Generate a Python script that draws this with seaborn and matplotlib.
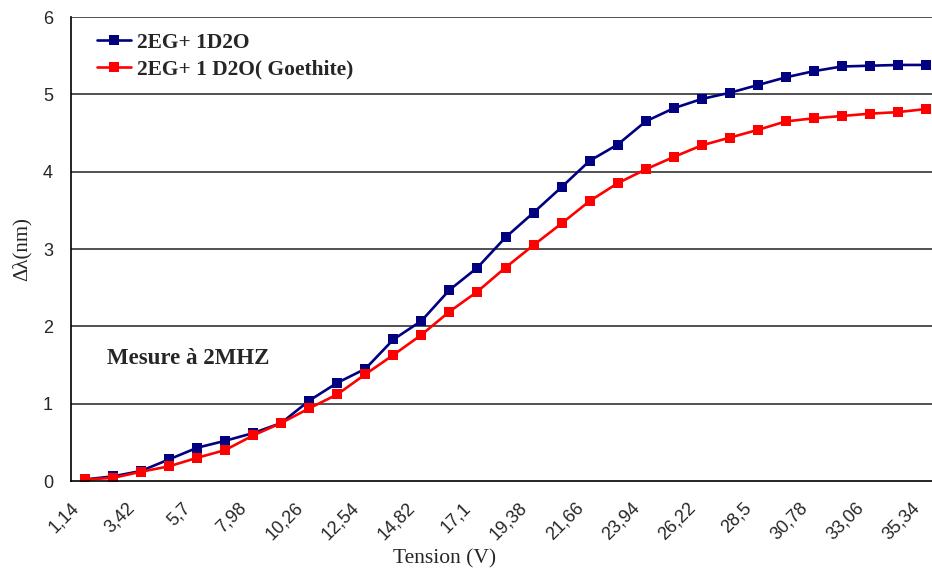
import matplotlib
matplotlib.use("Agg")
import numpy as np
import pandas as pd
import seaborn as sns
import matplotlib.pyplot as plt
import matplotlib.transforms as mtransforms
from matplotlib.ticker import FixedLocator

# Tension (V) categories
tension = [1.14, 2.28, 3.42, 4.56, 5.7, 6.84, 7.98, 9.12, 10.26, 11.4,
           12.54, 13.68, 14.82, 15.96, 17.1, 18.24, 19.38, 20.52, 21.66, 22.8,
           23.94, 25.08, 26.22, 27.36, 28.5, 29.64, 30.78, 31.92, 33.06, 34.2,
           35.34]

# delta lambda (nm)
eg_d2o = [0.02, 0.06, 0.13, 0.28, 0.43, 0.52, 0.62, 0.75, 1.04, 1.27,
          1.45, 1.83, 2.07, 2.47, 2.76, 3.15, 3.47, 3.80, 4.14, 4.35,
          4.65, 4.82, 4.94, 5.02, 5.12, 5.22, 5.30, 5.36, 5.37, 5.38,
          5.38]
eg_d2o_goethite = [0.02, 0.04, 0.12, 0.19, 0.30, 0.40, 0.59, 0.75, 0.94, 1.12,
                   1.38, 1.63, 1.89, 2.19, 2.45, 2.76, 3.05, 3.33, 3.62, 3.85,
                   4.03, 4.19, 4.34, 4.44, 4.54, 4.65, 4.69, 4.72, 4.75, 4.77,
                   4.81]

label_blue = "2EG+ 1D2O"
label_red = "2EG+ 1 D2O( Goethite)"

sns.set_style("white")
serif = ["Liberation Serif", "DejaVu Serif"]
sans = ["Liberation Sans", "DejaVu Sans"]

idx = np.arange(len(tension))
df = pd.DataFrame({"idx": idx, "blue": eg_d2o, "red": eg_d2o_goethite})

fig = plt.figure(figsize=(9.32, 5.72), dpi=100)
ax = fig.add_axes([71 / 932, 91 / 572, 869 / 932, 464 / 572])

sns.lineplot(data=df, x="idx", y="blue", ax=ax, color="#000080", marker="s",
             markersize=7, markeredgewidth=0, linewidth=1.9, label=label_blue)
sns.lineplot(data=df, x="idx", y="red", ax=ax, color="#FF0000", marker="s",
             markersize=7, markeredgewidth=0, linewidth=1.9, label=label_red)

ax.set_xlim(-0.5, len(tension) - 0.5)
ax.set_ylim(0, 6)

# gridlines
for yv in range(1, 7):
    ax.axhline(yv, color="#333333", lw=1.2, zorder=0)

for s in ["top", "right"]:
    ax.spines[s].set_visible(False)
for s in ["left", "bottom"]:
    ax.spines[s].set_color("black")
    ax.spines[s].set_linewidth(1.2)

# y ticks
ax.set_yticks(range(0, 7))
ax.tick_params(axis="y", direction="out", length=5, width=1.2, color="black",
               pad=8, labelsize=13)
for t in ax.get_yticklabels():
    t.set_family(sans)

# x: category boundaries as ticks, labels every other category
ax.xaxis.set_minor_locator(FixedLocator(np.arange(-0.5, len(tension), 1)))
ax.tick_params(axis="x", which="minor", direction="out", length=5, width=1.2,
               color="black")
ax.set_xticks(idx[::2])
ax.set_xticklabels([f"{v:g}".replace(".", ",") for v in tension[::2]],
                   rotation=45, ha="right", va="top", rotation_mode="anchor",
                   family=sans, fontsize=13)
ax.tick_params(axis="x", which="major", length=0, pad=13)
shift = mtransforms.ScaledTranslation(-15 / 100, 0, fig.dpi_scale_trans)
for t in ax.get_xticklabels():
    t.set_transform(t.get_transform() + shift)

ax.set_xlabel("Tension (V)", family=serif, fontsize=15.5, labelpad=4)
ax.xaxis.set_label_coords(0.43, -0.148)
ax.set_ylabel("\u0394\u03bb(nm)", family=serif, fontsize=15, labelpad=8)

ax.text(0.041, 0.265, "Mesure à 2MHZ", transform=ax.transAxes, ha="left",
        va="center", family=serif, fontweight="bold", fontsize=16.5)

ax.legend(loc="upper left", bbox_to_anchor=(0.02, 0.985), frameon=False,
          prop={"family": serif, "weight": "bold", "size": 15.5},
          handlelength=1.6, handletextpad=0.25, labelspacing=0.3,
          borderaxespad=0)

fig.savefig("out.png", dpi=100)
